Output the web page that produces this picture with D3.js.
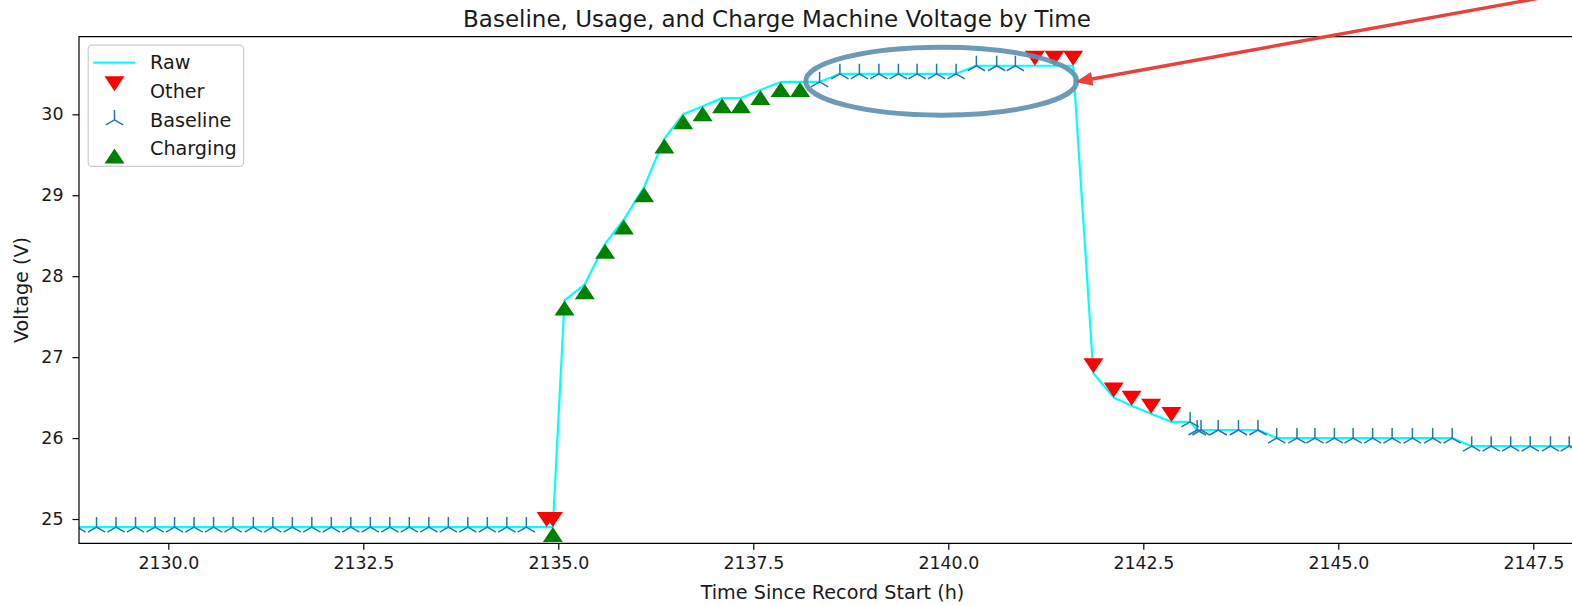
<!DOCTYPE html>
<html><head><meta charset="utf-8">
<script src="https://cdn.jsdelivr.net/npm/d3@7"></script>
<style>
html,body{margin:0;padding:0;background:#fff;}
svg{display:block;font-family:"DejaVu Sans",sans-serif;}
</style></head><body>
<svg id="chart" width="1572" height="605"></svg>
<script>
// ---------- data ----------
const rawTimes = [2128.83, 2129.08, 2129.33, 2129.58, 2129.83, 2130.08, 2130.33, 2130.58, 2130.83, 2131.09,
  2131.34, 2131.59, 2131.84, 2132.09, 2132.34, 2132.59, 2132.84, 2133.09, 2133.34, 2133.59,
  2133.84, 2134.09, 2134.34, 2134.59, 2134.85, 2134.93, 2135.08, 2135.34, 2135.60, 2135.84,
  2136.10, 2136.36, 2136.60, 2136.85, 2137.10, 2137.34, 2137.59, 2137.85, 2138.10, 2138.35,
  2138.61, 2138.86, 2139.11, 2139.36, 2139.60, 2139.85, 2140.10, 2140.36, 2140.62, 2140.86,
  2141.11, 2141.36, 2141.60, 2141.86, 2142.12, 2142.35, 2142.60, 2142.86, 2143.10, 2143.19,
  2143.24, 2143.46, 2143.72, 2143.97, 2144.21, 2144.47, 2144.70, 2144.95, 2145.19, 2145.44,
  2145.69, 2145.95, 2146.21, 2146.46, 2146.71, 2146.96, 2147.21, 2147.46, 2147.72, 2147.96, 2148.21];
const rawVolts = [24.9, 24.9, 24.9, 24.9, 24.9, 24.9, 24.9, 24.9, 24.9, 24.9,
  24.9, 24.9, 24.9, 24.9, 24.9, 24.9, 24.9, 24.9, 24.9, 24.9,
  24.9, 24.9, 24.9, 24.9, 24.9, 24.9, 27.7, 27.9, 28.4, 28.7,
  29.1, 29.7, 30.0, 30.1, 30.2, 30.2, 30.3, 30.4, 30.4, 30.4,
  30.5, 30.5, 30.5, 30.5, 30.5, 30.5, 30.5, 30.6, 30.6, 30.6,
  30.6, 30.6, 30.6, 26.8, 26.5, 26.4, 26.3, 26.2, 26.2, 26.1,
  26.1, 26.1, 26.1, 26.1, 26.0, 26.0, 26.0, 26.0, 26.0, 26.0,
  26.0, 26.0, 26.0, 26.0, 25.9, 25.9, 25.9, 25.9, 25.9, 25.9, 25.9];

const otherTimes = [2134.85, 2134.93, 2141.11, 2141.36, 2141.60, 2141.86, 2142.12, 2142.35, 2142.60, 2142.86];
const otherVolts = [24.9, 24.9, 30.6, 30.6, 30.6, 26.8, 26.5, 26.4, 26.3, 26.2];

const baselineTimes = [2128.83, 2129.08, 2129.33, 2129.58, 2129.83, 2130.08, 2130.33, 2130.58, 2130.83, 2131.09,
  2131.34, 2131.59, 2131.84, 2132.09, 2132.34, 2132.59, 2132.84, 2133.09, 2133.34, 2133.59,
  2133.84, 2134.09, 2134.34, 2134.59,
  2138.35, 2138.61, 2138.86, 2139.11, 2139.36, 2139.60, 2139.85, 2140.10, 2140.36, 2140.62, 2140.86,
  2143.10, 2143.19, 2143.24, 2143.46, 2143.72, 2143.97, 2144.21, 2144.47, 2144.70, 2144.95,
  2145.19, 2145.44, 2145.69, 2145.95, 2146.21, 2146.46, 2146.71, 2146.96, 2147.21, 2147.46,
  2147.72, 2147.96, 2148.21];
const baselineVolts = [24.9, 24.9, 24.9, 24.9, 24.9, 24.9, 24.9, 24.9, 24.9, 24.9,
  24.9, 24.9, 24.9, 24.9, 24.9, 24.9, 24.9, 24.9, 24.9, 24.9,
  24.9, 24.9, 24.9, 24.9,
  30.4, 30.5, 30.5, 30.5, 30.5, 30.5, 30.5, 30.5, 30.6, 30.6, 30.6,
  26.2, 26.1, 26.1, 26.1, 26.1, 26.1, 26.0, 26.0, 26.0, 26.0,
  26.0, 26.0, 26.0, 26.0, 26.0, 26.0, 25.9, 25.9, 25.9, 25.9,
  25.9, 25.9, 25.9];

const chargingTimes = [2134.93, 2135.08, 2135.34, 2135.60, 2135.84, 2136.10, 2136.36, 2136.60, 2136.85, 2137.10,
  2137.34, 2137.59, 2137.85, 2138.10];
const chargingVolts = [24.9, 27.7, 27.9, 28.4, 28.7, 29.1, 29.7, 30.0, 30.1, 30.2,
  30.2, 30.3, 30.4, 30.4];

const xTicks = [2130.0, 2132.5, 2135.0, 2137.5, 2140.0, 2142.5, 2145.0, 2147.5];
const yTicks = [25, 26, 27, 28, 29, 30];
const legendLabels = ["Raw", "Other", "Baseline", "Charging"];
const titleText = "Baseline, Usage, and Charge Machine Voltage by Time";
const xLabel = "Time Since Record Start (h)";
const yLabel = "Voltage (V)";
// annotation (data units)
const highlight = {cx: 2139.91, cy: 30.41, rx: 1.737, ry: 0.42};
const arrowTip = [2141.63, 30.40];
const arrowTail = [2148.35, 31.57];

// ---------- layout ----------
const L = 79, T = 36.7, B = 543.3, R = 1590;
const x = d3.scaleLinear().domain([2128.855, 2128.855 + (R - L) / 78]).range([L, R]);
const y = d3.scaleLinear().domain([24.70, 30.959]).range([B, T]);
const svg = d3.select("#chart");
const FS = 17.4;   // tick labels
const LFS = 19.2;  // axis labels / legend
const TFS = 23;    // title

svg.append("defs").append("clipPath").attr("id", "clip")
  .append("rect").attr("x", L).attr("y", T).attr("width", R - L).attr("height", B - T);

const plot = svg.append("g").attr("clip-path", "url(#clip)");

// raw line
plot.append("path")
  .datum(rawTimes.map((t, i) => [t, rawVolts[i]]))
  .attr("fill", "none").attr("stroke", "#00ffff").attr("stroke-width", 2.2)
  .attr("stroke-linejoin", "round")
  .attr("d", d3.line().x(d => x(d[0])).y(d => y(d[1])));

const caretDown = "M-10,-15L10,-15L0,0Z";
const caretUp = "M-10,15L10,15L0,0Z";
const triUp = "M0,0L0,-10M0,0L-8.66,5M0,0L8.66,5";

plot.selectAll(".other").data(otherTimes.map((t, i) => [t, otherVolts[i]])).join("path")
  .attr("d", caretDown).attr("fill", "#ff0000")
  .attr("transform", d => `translate(${x(d[0])},${y(d[1])})`);
plot.selectAll(".base").data(baselineTimes.map((t, i) => [t, baselineVolts[i]])).join("path")
  .attr("d", triUp).attr("fill", "none").attr("stroke", "#1f77b4").attr("stroke-width", 1.5)
  .attr("transform", d => `translate(${x(d[0])},${y(d[1])})`);
plot.selectAll(".chg").data(chargingTimes.map((t, i) => [t, chargingVolts[i]])).join("path")
  .attr("d", caretUp).attr("fill", "#008000")
  .attr("transform", d => `translate(${x(d[0])},${y(d[1])})`);

// axes
const xAxis = svg.append("g").attr("transform", `translate(0,${B})`)
  .call(d3.axisBottom(x).tickValues(xTicks).tickFormat(d3.format(".1f")).tickSize(6.5).tickPadding(7).tickSizeOuter(0));
const yAxis = svg.append("g").attr("transform", `translate(${L},0)`)
  .call(d3.axisLeft(y).tickValues(yTicks).tickFormat(d3.format("d")).tickSize(6.5).tickPadding(9).tickSizeOuter(0));
[xAxis, yAxis].forEach(a => {
  a.select(".domain").remove();
  a.selectAll(".tick line").attr("stroke", "#000").attr("stroke-width", 1.2);
  a.selectAll(".tick text").attr("fill", "#1a1a1a").style("font-size", FS + "px").style("font-family", "DejaVu Sans");
});

// spines
svg.append("path").attr("fill", "none").attr("stroke", "#000").attr("stroke-width", 1.2)
  .attr("d", `M${R},${T}H${L}V${B}H${R}`);

// titles
svg.append("text").attr("x", 777).attr("y", 26.5).attr("text-anchor", "middle")
  .style("font-size", TFS + "px").attr("fill", "#1a1a1a").text(titleText);
svg.append("text").attr("x", 832.5).attr("y", 598.5).attr("text-anchor", "middle")
  .style("font-size", LFS + "px").attr("fill", "#1a1a1a").text(xLabel);
svg.append("text").attr("transform", `translate(27.5,${(T + B) / 2}) rotate(-90)`).attr("text-anchor", "middle")
  .style("font-size", LFS + "px").attr("fill", "#1a1a1a").text(yLabel);

// legend
const lg = svg.append("g");
lg.append("rect").attr("x", 88.2).attr("y", 45.1).attr("width", 155.4).attr("height", 121.3)
  .attr("rx", 4).attr("fill", "#fff").attr("fill-opacity", 0.8).attr("stroke", "#cccccc").attr("stroke-width", 1.2);
const rowY = [62.7, 91.3, 119.9, 148.5];
lg.append("line").attr("x1", 93.3).attr("x2", 135).attr("y1", rowY[0]).attr("y2", rowY[0])
  .attr("stroke", "#00ffff").attr("stroke-width", 2.2);
lg.append("path").attr("d", caretDown).attr("fill", "#ff0000").attr("transform", `translate(114.5,${rowY[1]})`);
lg.append("path").attr("d", triUp).attr("fill", "none").attr("stroke", "#1f77b4").attr("stroke-width", 1.5)
  .attr("transform", `translate(114.5,${rowY[2]})`);
lg.append("path").attr("d", caretUp).attr("fill", "#008000").attr("transform", `translate(114.5,${rowY[3]})`);
legendLabels.forEach((s, i) => {
  lg.append("text").attr("x", 150).attr("y", rowY[i]).attr("dy", "0.35em")
    .style("font-size", LFS + "px").attr("fill", "#1a1a1a").text(s);
});

// annotations
svg.append("ellipse")
  .attr("cx", x(highlight.cx)).attr("cy", y(highlight.cy))
  .attr("rx", x(highlight.cx + highlight.rx) - x(highlight.cx))
  .attr("ry", y(highlight.cy) - y(highlight.cy + highlight.ry))
  .attr("fill", "none").attr("stroke", "#5f92b1").attr("stroke-opacity", 0.92).attr("stroke-width", 5);

const tx = x(arrowTip[0]), ty = y(arrowTip[1]);
const sx = x(arrowTail[0]), sy = y(arrowTail[1]);
const ang = Math.atan2(ty - sy, tx - sx);
const hl = 17, hw = 7;
const bx = tx - hl * Math.cos(ang), by = ty - hl * Math.sin(ang);
svg.append("line").attr("x1", sx).attr("y1", sy).attr("x2", bx + 3 * Math.cos(ang)).attr("y2", by + 3 * Math.sin(ang))
  .attr("stroke", "#e8433a").attr("stroke-width", 3.4);
svg.append("path")
  .attr("d", `M${tx},${ty}L${bx - hw * Math.sin(ang)},${by + hw * Math.cos(ang)}L${bx + hw * Math.sin(ang)},${by - hw * Math.cos(ang)}Z`)
  .attr("fill", "#e8433a");
</script>
</body></html>
